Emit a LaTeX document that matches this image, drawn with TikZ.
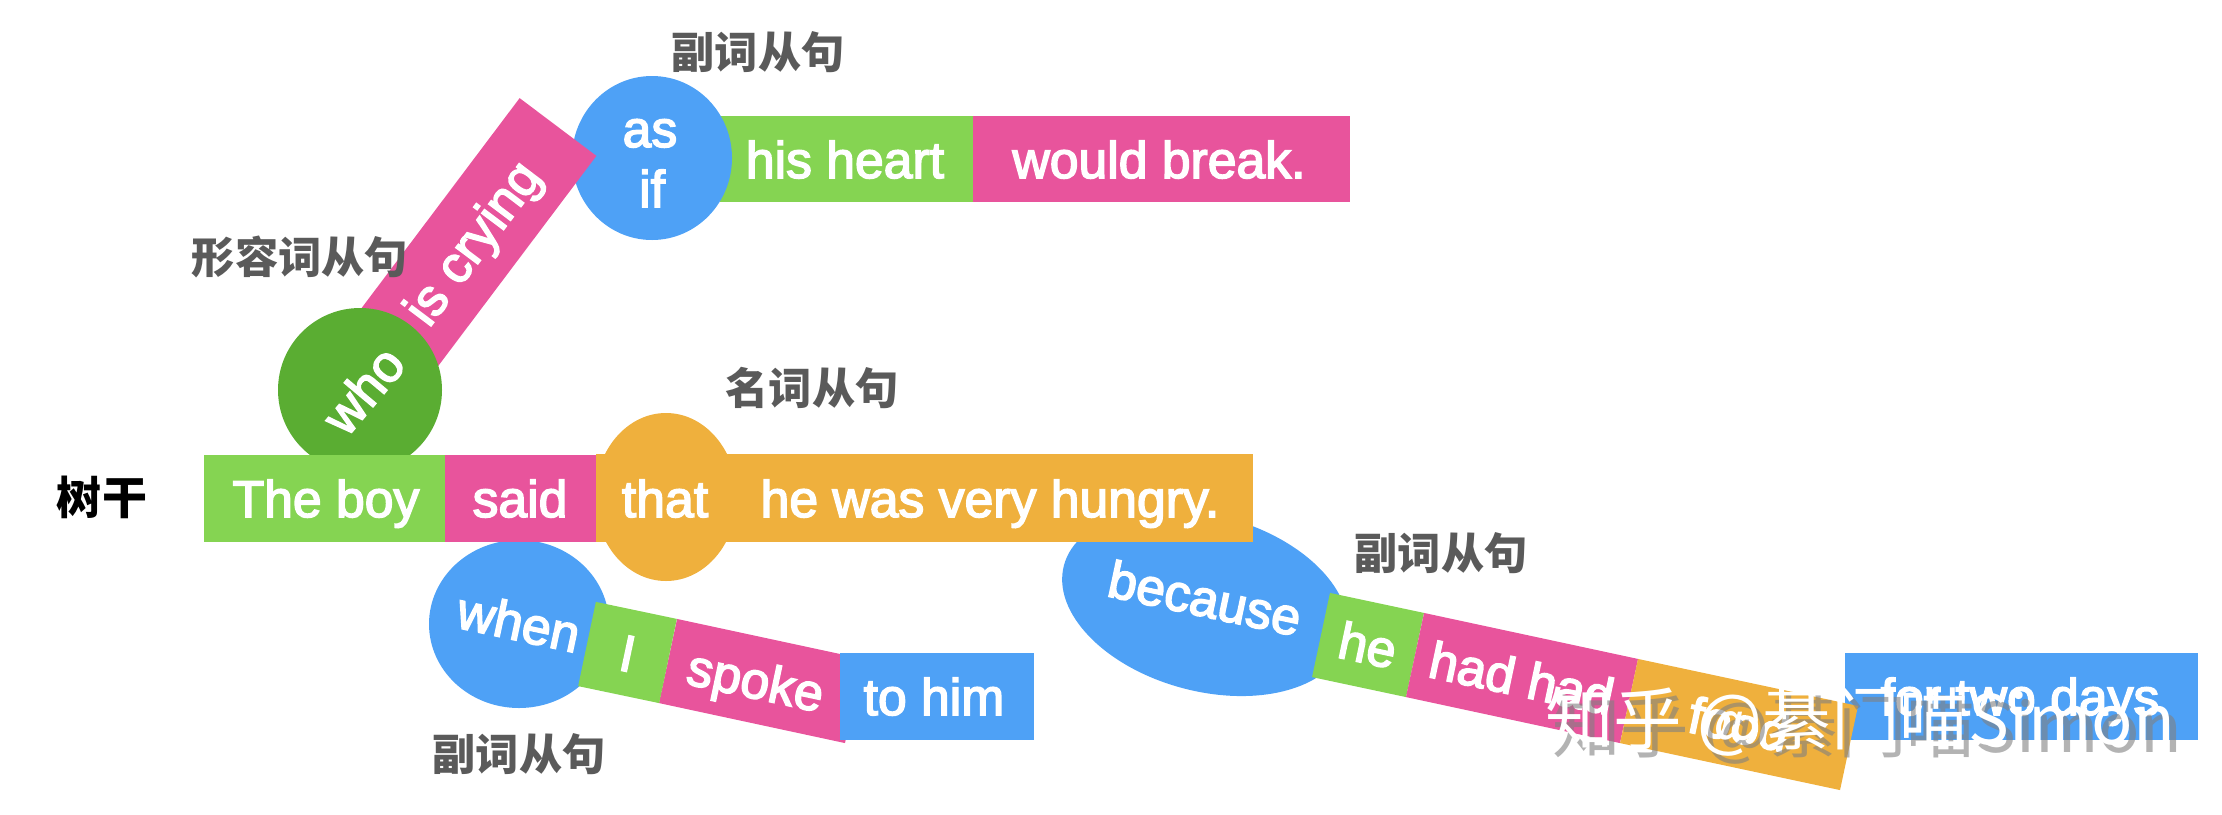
\documentclass[tikz,border=0pt]{standalone}
\usepackage{fontspec}
\setmainfont{Liberation Sans}
\newfontfamily\wordfont{Liberation Sans}[FakeBold=3]
\newfontfamily\cjk{Noto Sans CJK SC}
\definecolor{lgreen}{HTML}{85D452}
\definecolor{dgreen}{HTML}{5AAD32}
\definecolor{pinkc}{HTML}{E8549C}
\definecolor{orangec}{HTML}{EFB03D}
\definecolor{bluec}{HTML}{4EA1F6}
\definecolor{labgray}{HTML}{5A5A5A}
\begin{document}
\begin{tikzpicture}[x=0.01cm,y=0.01cm,
  word/.style={text=white, font=\wordfont\fontsize{14.7}{17}\selectfont, inner sep=0pt},
  lab/.style={text=labgray, font=\cjk\bfseries\fontsize{12.3}{14}\selectfont, inner sep=0pt},
  bar/.style={line width=0.86cm},
  wm/.style={font=\cjk\fontsize{19.5}{22}\selectfont, inner sep=0pt}]
\useasboundingbox (0,0) rectangle (2222,814);

% ---- top branch: as if / his heart / would break
\fill[lgreen] (720,612) rectangle (973,698);
\fill[pinkc] (973,612) rectangle (1350,698);
\fill[bluec] (652,656) ellipse [x radius=80, y radius=82];
% ---- who is crying
\coordinate (wc) at (360,424);
\coordinate (ce) at (558,687);
\draw[pinkc, line width=0.96cm] (wc) -- (ce);
\fill[dgreen] (wc) circle [radius=82];

% ---- when I spoke to him
\fill[bluec] (519,190) ellipse [x radius=90, y radius=84];
\coordinate (w0) at (587,170);
\coordinate (w1) at (668,153);
\coordinate (w2) at (854,113);
\draw[pinkc, bar] (w1) -- (w2);
\draw[lgreen, bar] (w0) -- (w1);
\fill[bluec] (840,74) rectangle (1034,161);

% ---- because he had had food for two days
\fill[bluec, rotate around={-15:(1205,211)}] (1205,211) ellipse [x radius=146, y radius=88];
\coordinate (b0) at (1321,179);
\coordinate (b1) at (1415,159);
\coordinate (b2) at (1629,113);
\coordinate (b3) at (1849,66);
\fill[bluec] (1845,74) rectangle (2198,161);
\draw[lgreen, bar] (b0) -- (b1);
\draw[pinkc, bar] (b1) -- (b2);
\draw[orangec, bar] (b2) -- (b3);

% ---- trunk
\fill[orangec] (666,317) ellipse [x radius=71, y radius=84];
\fill[lgreen] (204,272) rectangle (445,359);
\fill[pinkc] (445,272) rectangle (596,359);
\fill[orangec] (596,272) rectangle (1253,360);

% ---- words
\node[word, anchor=base] (tb) at (326,297) {The boy};
\node[word, anchor=base] (sd) at (520,297) {said};
\node[word, anchor=base] (th) at (665,297) {that};
\node[word, anchor=base] (hw) at (990,297) {he was very hungry.};

\node[word, anchor=base] (as) at (650,667) {as};
\node[word, anchor=base] (if) at (652,607) {if};
\node[word, anchor=base] (hh) at (845,636) {his heart};
\node[word, anchor=base] (wb) at (1159,636) {would break.};

\node[word, rotate=50] (who) at (363,424) {who};
\node[word, anchor=base, rotate=53] (ic) at (486,561) {is crying};

\node[word, rotate=-12] (wh) at (519,192) {when};
\node[word, anchor=base, rotate=-12] (ii) at (624,143) {I};
\node[word, anchor=base, rotate=-12] (sp) at (752,116) {spoke};
\node[word, anchor=base] (tm) at (934,99) {to him};

\node[word, rotate=-12] (bc) at (1205,216) {because};
\node[word, anchor=base, rotate=-12] (he) at (1364,151) {he};
\node[word, anchor=base, rotate=-12] (hd) at (1518,118) {had had};
\node[word, anchor=base, rotate=-12] (fd) at (1735,72) {food};
\node[word, anchor=base] (td) at (2020,99) {for two days};

% ---- labels
\node[lab, text=black, font=\cjk\bfseries\fontsize{12.8}{14}\selectfont] (trunk) at (102,317) {树干};
\node[lab] (l1) at (758,762) {副词从句};
\node[lab] (l2) at (300,557) {形容词从句};
\node[lab] (l3) at (812,426) {名词从句};
\node[lab] (l4) at (519,60) {副词从句};
\node[lab] (l5) at (1441,261) {副词从句};

% ---- watermark
\node[wm, text=gray, opacity=0.6] (wms) at (1867,84) {知乎 @綦门喵Simon};
\node[wm, text=white] (wmt) at (1860,92) {知乎 @綦门喵Simon};
\end{tikzpicture}
\end{document}
